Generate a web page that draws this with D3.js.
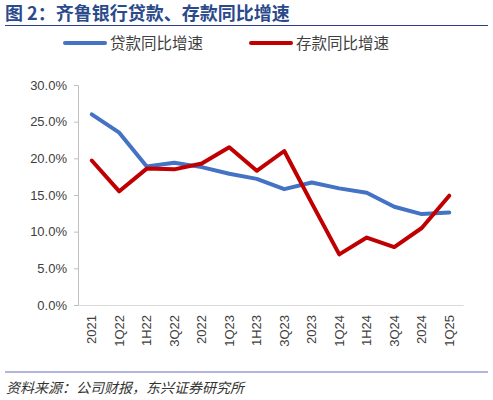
<!DOCTYPE html>
<html>
<head>
<meta charset="utf-8">
<script src="https://cdn.jsdelivr.net/npm/d3@7"></script>
<style>
  body { margin: 0; background: #fff; }
  text { font-family: "Liberation Sans", Arial, "Noto Sans CJK SC", sans-serif; }
</style>
</head>
<body>
<script>
var w = 493;
var h = 400;

var categories = ["2021","1Q22","1H22","3Q22","2022","1Q23","1H23","3Q23","2023","1Q24","1H24","3Q24","2024","1Q25"];
var loanGrowth = [26.0, 23.5, 18.9, 19.4, 18.8, 17.9, 17.2, 15.8, 16.7, 15.9, 15.3, 13.4, 12.4, 12.6];
var depositGrowth = [19.7, 15.5, 18.6, 18.5, 19.3, 21.5, 18.3, 21.0, 13.9, 6.9, 9.2, 7.9, 10.5, 14.9];
var yTicks = [0, 5, 10, 15, 20, 25, 30];
var seriesNames = ["贷款同比增速", "存款同比增速"];

var margin = {top: 85, left: 78, right: 30, bottom: 95};
var width = w - margin.left - margin.right;
var height = h - margin.top - margin.bottom;

var svg = d3.select("body").append("svg")
  .attr("width", w)
  .attr("height", h);

// title
svg.append("text")
  .attr("x", 5)
  .attr("y", 20)
  .attr("font-size", 18)
  .attr("font-weight", "bold")
  .attr("fill", "#2b4a8c")
  .style("font-family", "'Noto Sans CJK SC', sans-serif")
  .text("图 2：齐鲁银行贷款、存款同比增速");

svg.append("line")
  .attr("x1", 5).attr("x2", 488)
  .attr("y1", 25.5).attr("y2", 25.5)
  .attr("stroke", "#2b3f8c")
  .attr("stroke-width", 1.2);

// legend
var colors = ["#4472c4", "#c00000"];
var legendX = [65, 251];
seriesNames.forEach(function(name, i) {
  svg.append("line")
    .attr("x1", legendX[i]).attr("x2", legendX[i] + 40)
    .attr("y1", 43).attr("y2", 43)
    .attr("stroke", colors[i])
    .attr("stroke-width", 4)
    .attr("stroke-linecap", "round");
  svg.append("text")
    .attr("x", legendX[i] + 45)
    .attr("y", 49)
    .attr("font-size", 15.5)
    .attr("fill", "#404040")
    .style("font-family", "'Noto Sans CJK SC', sans-serif")
    .text(name);
});

var chart = svg.append("g")
  .attr("transform", "translate(" + margin.left + "," + margin.top + ")");

var x = d3.scaleBand()
  .domain(categories)
  .range([0, width]);

var y = d3.scaleLinear()
  .domain([0, 30])
  .range([height, 0]);

// y axis
var yAxis = chart.append("g")
  .call(d3.axisLeft(y).tickValues(yTicks).tickSize(4).tickPadding(7)
    .tickFormat(function(d) { return d.toFixed(1) + "%"; }));
yAxis.selectAll("path, line").attr("stroke", "#bfbfbf");
yAxis.selectAll("text").attr("font-size", 13).attr("fill", "#404040")
  .style("font-family", "'Liberation Sans', Arial, sans-serif");

// x axis
var xAxis = chart.append("g")
  .attr("transform", "translate(0," + height + ")")
  .call(d3.axisBottom(x).tickSize(0).tickSizeOuter(0));
xAxis.select("path").attr("stroke", "#d9d9d9");
xAxis.selectAll("text")
  .attr("font-size", 13)
  .attr("fill", "#404040")
  .attr("transform", "rotate(-90)")
  .attr("text-anchor", "end")
  .attr("x", -10)
  .attr("y", 0)
  .attr("dy", "0.35em")
  .style("font-family", "'Liberation Sans', Arial, sans-serif");

var line = d3.line()
  .x(function(d, i) { return x(categories[i]) + x.bandwidth() / 2; })
  .y(function(d) { return y(d); });

chart.append("path")
  .datum(loanGrowth)
  .attr("fill", "none")
  .attr("stroke", colors[0])
  .attr("stroke-width", 4)
  .attr("stroke-linejoin", "round")
  .attr("stroke-linecap", "round")
  .attr("d", line);

chart.append("path")
  .datum(depositGrowth)
  .attr("fill", "none")
  .attr("stroke", colors[1])
  .attr("stroke-width", 4)
  .attr("stroke-linejoin", "round")
  .attr("stroke-linecap", "round")
  .attr("d", line);

// footer
svg.append("line")
  .attr("x1", 5).attr("x2", 488)
  .attr("y1", 372).attr("y2", 372)
  .attr("stroke", "#6b6bc4")
  .attr("stroke-width", 1.2);

svg.append("text")
  .attr("x", 6)
  .attr("y", 393)
  .attr("font-size", 14)
  .attr("font-style", "italic")
  .attr("fill", "#333")
  .style("font-family", "'Noto Sans CJK SC', sans-serif")
  .text("资料来源：公司财报，东兴证券研究所");
</script>
</body>
</html>
